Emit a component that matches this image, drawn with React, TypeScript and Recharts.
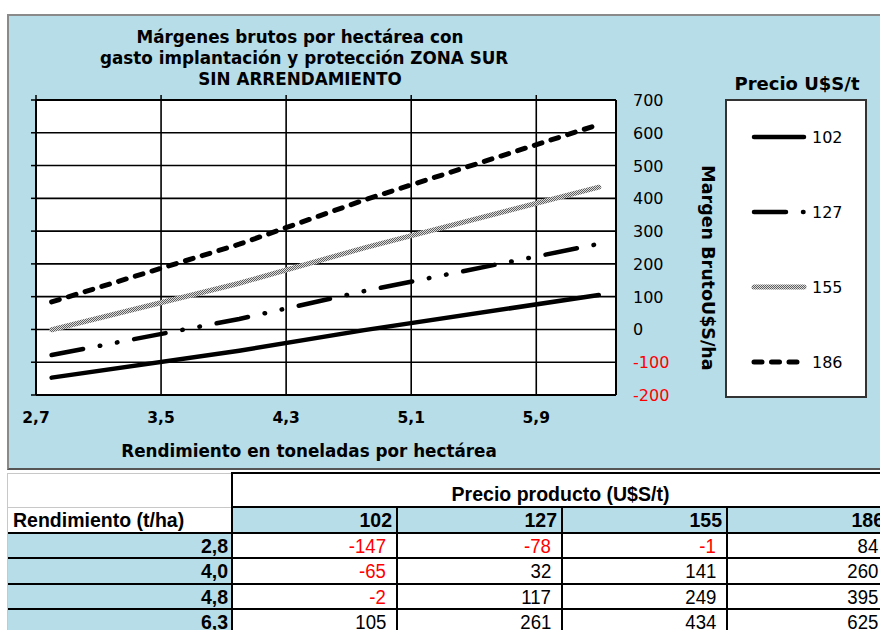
import React from "react";
import { LineChart, Line, XAxis, YAxis, CartesianGrid } from "recharts";

const rendimientos = [2.8, 4.0, 4.8, 6.3];
const precios = [102, 127, 155, 186];
const margen102 = [-147, -65, -2, 105];
const margen127 = [-78, 32, 117, 261];
const margen155 = [-1, 141, 249, 434];
const margen186 = [84, 260, 395, 625];
const margenes = [margen102, margen127, margen155, margen186];

const xTicks = [2.7, 3.5, 4.3, 5.1, 5.9];
const yTicks = [-200, -100, 0, 100, 200, 300, 400, 500, 600, 700];

const data = rendimientos.map((r, i) => {
  const row: Record<string, number> = { rend: r };
  precios.forEach((p, j) => {
    row["p" + p] = margenes[j][i];
  });
  return row;
});

const estilos = [
  { stroke: "#000", width: 4.5, dash: undefined as string | undefined },
  { stroke: "#000", width: 4.5, dash: "32 17 0.5 17 0.5 17" },
  { stroke: "url(#trama155)", width: 5, dash: undefined },
  { stroke: "#000", width: 5, dash: "8 9.5" },
];

const FONT = '"DejaVu Sans", Verdana, sans-serif';
const TFONT = '"Liberation Sans", Arial, sans-serif';
const AZUL = "#B7DDE8";
const coma = (v: number) => v.toFixed(1).replace(".", ",");

const Trama = ({ id }: { id: string }) => (
  <defs>
    <pattern id={id} width="2" height="2" patternUnits="userSpaceOnUse">
      <rect width="2" height="2" fill="#dcdcdc" />
      <rect width="1" height="1" fill="#5e5e5e" />
      <rect x="1" y="1" width="1" height="1" fill="#5e5e5e" />
    </pattern>
  </defs>
);

const EmptyTick = () => <g />;

const BottomTick = (props: any) => {
  const { x, y, payload } = props;
  return (
    <text x={x} y={y} dy={10} textAnchor="middle" fontFamily={FONT} fontSize={15.5} fontWeight="bold" fill="#000">
      {coma(payload.value)}
    </text>
  );
};

const RightTick = (props: any) => {
  const { x, y, payload } = props;
  return (
    <text x={x} y={y} dy={6} textAnchor="start" fontFamily={FONT} fontSize={16} fill={payload.value < 0 ? "#FF0000" : "#000"}>
      {payload.value}
    </text>
  );
};

const XTitle = (props: any) => {
  const vb = props.viewBox;
  return (
    <text x={vb.x + vb.width / 2 - 17} y={vb.y + 62} textAnchor="middle" fontFamily={FONT} fontSize={16.8} fontWeight="bold" fill="#000">
      Rendimiento en toneladas por hectárea
    </text>
  );
};

const YTitle = (props: any) => {
  const vb = props.viewBox;
  const cx = vb.x + 92;
  const cy = vb.y + 168;
  return (
    <text x={cx} y={cy} transform={`rotate(90, ${cx}, ${cy})`} textAnchor="middle" dominantBaseline="central" fontFamily={FONT} fontSize={17.5} fontWeight="bold" fill="#000">
      Margen BrutoU$S/ha
    </text>
  );
};

const Leyenda = () => (
  <svg width={150} height={330} style={{ position: "absolute", left: 720, top: 68 }}>
    <Trama id="trama155b" />
    <text x={77} y={22} textAnchor="middle" fontFamily={FONT} fontSize={18} fontWeight="bold" fill="#000">
      Precio U$S/t
    </text>
    <rect x={6} y={32} width={140} height={297} fill="#fff" stroke="#333" strokeWidth={2} />
    {precios.map((p, i) => {
      const e = estilos[i];
      const y = 69 + i * 75;
      return (
        <g key={p}>
          <line x1={34} x2={i === 3 ? 80 : 84} y1={y} y2={y} stroke={i === 2 ? "url(#trama155b)" : e.stroke} strokeWidth={e.width} strokeDasharray={e.dash} strokeLinecap="round" />
          <text x={92} y={y} dy={6} fontFamily={FONT} fontSize={16} fill="#000">
            {p}
          </text>
        </g>
      );
    })}
  </svg>
);

// tabla inferior
const colX = [8, 232, 397, 562, 727, 889];
const rowY = [473, 507, 533, 558, 584, 609, 634];

const Celda = ({ c0, c1, r, bg, align, bold, color, pad, children }: any) => (
  <div
    style={{
      position: "absolute",
      left: colX[c0],
      top: rowY[r],
      width: colX[c1] - colX[c0],
      height: rowY[r + 1] - rowY[r],
      background: bg,
      display: "flex",
      alignItems: "center",
      justifyContent: align,
      padding: `1px ${pad ?? 5}px 0 5px`,
      boxSizing: "border-box",
      fontFamily: TFONT,
      fontSize: bold ? 19.5 : 20,
      fontWeight: bold ? "bold" : "normal",
      color: color || "#000",
      whiteSpace: "nowrap",
    }}
  >
    {bold ? (
      children
    ) : (
      <span style={{ display: "inline-block", transform: "scaleX(0.93)", transformOrigin: "right center" }}>{children}</span>
    )}
  </div>
);

const Linea = ({ x, y, w, h, c }: any) => (
  <div style={{ position: "absolute", left: x, top: y, width: w, height: h, background: c }} />
);

const Tabla = () => (
  <>
    <Celda c0={0} c1={1} r={0} bg="#fff" bold />
    <Celda c0={1} c1={5} r={0} bg="#fff" align="center" bold>
      <span style={{ paddingTop: 8 }}>Precio producto (U$S/t)</span>
    </Celda>
    <Celda c0={0} c1={1} r={1} bg="#fff" align="flex-start" bold>
      Rendimiento (t/ha)
    </Celda>
    {precios.map((p, j) => (
      <Celda key={p} c0={j + 1} c1={j + 2} r={1} bg={AZUL} align="flex-end" bold pad={5}>
        {p}
      </Celda>
    ))}
    {rendimientos.map((r, i) => (
      <React.Fragment key={r}>
        <Celda c0={0} c1={1} r={i + 2} bg={AZUL} align="flex-end" bold pad={4}>
          {coma(r)}
        </Celda>
        {margenes.map((m, j) => (
          <Celda key={j} c0={j + 1} c1={j + 2} r={i + 2} bg="#fff" align="flex-end" pad={11} color={m[i] < 0 ? "#FF0000" : "#000"}>
            {m[i]}
          </Celda>
        ))}
      </React.Fragment>
    ))}
    <Linea x={7} y={rowY[0]} w={1} h={200} c="#c8c8c8" />
    <Linea x={8} y={rowY[0]} w={224} h={1} c="#c8c8c8" />
    <Linea x={8} y={rowY[1]} w={224} h={1} c="#c8c8c8" />
    <Linea x={231} y={rowY[0] - 1} w={700} h={2} c="#000" />
    <Linea x={231} y={rowY[1] - 1} w={700} h={2} c="#000" />
    {rowY.slice(2, 6).map((y) => (
      <Linea key={y} x={8} y={y - 1} w={900} h={2} c="#000" />
    ))}
    <Linea x={231} y={rowY[0] - 1} w={2} h={200} c="#000" />
    {colX.slice(2, 5).map((x) => (
      <Linea key={x} x={x - 1} y={rowY[1] - 1} w={2} h={200} c="#000" />
    ))}
  </>
);

export default function App() {
  return (
    <div style={{ position: "fixed", left: 0, top: 0, width: 880, height: 630, overflow: "hidden", background: "#fff" }}>
      <div
        style={{
          position: "absolute",
          left: 7,
          top: 14,
          width: 920,
          height: 456,
          boxSizing: "border-box",
          background: AZUL,
          border: "2px solid #8a8a8a",
          borderBottomColor: "#555",
        }}
      />
      <div
        style={{
          position: "absolute",
          left: 100,
          top: 27,
          width: 400,
          textAlign: "center",
          fontFamily: FONT,
          fontSize: 16.8,
          fontWeight: "bold",
          lineHeight: "21px",
          whiteSpace: "nowrap",
          color: "#000",
        }}
      >
        <div>Márgenes brutos por hectárea con</div>
        <div>gasto implantación y protección ZONA SUR</div>
        <div>SIN ARRENDAMIENTO</div>
      </div>
      <div style={{ position: "absolute", left: 0, top: 0 }}>
        <LineChart width={730} height={470} data={data} margin={{ top: 95, right: 0, bottom: 0, left: 0 }}>
          <Trama id="trama155" />
          <CartesianGrid stroke="#000" strokeWidth={1.6} fill="#fff" fillOpacity={1} />
          <XAxis
            dataKey="rend"
            type="number"
            domain={[2.7, 6.41]}
            allowDataOverflow
            ticks={xTicks}
            interval={0}
            height={75}
            axisLine={{ stroke: "#000", strokeWidth: 2 }}
            tickLine={false}
            tickSize={0}
            tickMargin={18}
            tick={BottomTick}
            label={{ content: XTitle }}
          />
          <XAxis
            xAxisId="top"
            dataKey="rend"
            orientation="top"
            type="number"
            domain={[2.7, 6.41]}
            allowDataOverflow
            ticks={xTicks}
            interval={0}
            height={5}
            tickSize={5}
            axisLine={{ stroke: "#000", strokeWidth: 2 }}
            tickLine={{ stroke: "#000", strokeWidth: 1.5 }}
            tick={EmptyTick}
          />
          <YAxis
            type="number"
            domain={[-200, 700]}
            allowDataOverflow
            ticks={yTicks}
            interval={0}
            width={36}
            tickSize={5}
            axisLine={{ stroke: "#000", strokeWidth: 2 }}
            tickLine={{ stroke: "#000", strokeWidth: 1.5 }}
            tick={EmptyTick}
          />
          <YAxis
            yAxisId="right"
            orientation="right"
            type="number"
            domain={[-200, 700]}
            allowDataOverflow
            ticks={yTicks}
            interval={0}
            width={114}
            tickSize={0}
            tickMargin={17}
            axisLine={{ stroke: "#000", strokeWidth: 2 }}
            tickLine={false}
            tick={RightTick}
            label={{ content: YTitle }}
          />
          {precios.map((p, i) => (
            <Line
              key={p}
              type="linear"
              dataKey={"p" + p}
              stroke={estilos[i].stroke}
              strokeWidth={estilos[i].width}
              strokeDasharray={estilos[i].dash}
              strokeLinecap="round"
              dot={false}
              activeDot={false}
              isAnimationActive={false}
            />
          ))}
          {/* serie oculta para que los ejes superior y derecho tengan datos */}
          <Line
            type="linear"
            dataKey="p186"
            xAxisId="top"
            yAxisId="right"
            stroke="none"
            strokeOpacity={0}
            dot={false}
            activeDot={false}
            legendType="none"
            isAnimationActive={false}
          />
        </LineChart>
      </div>
      <Leyenda />
      <Tabla />
    </div>
  );
}
